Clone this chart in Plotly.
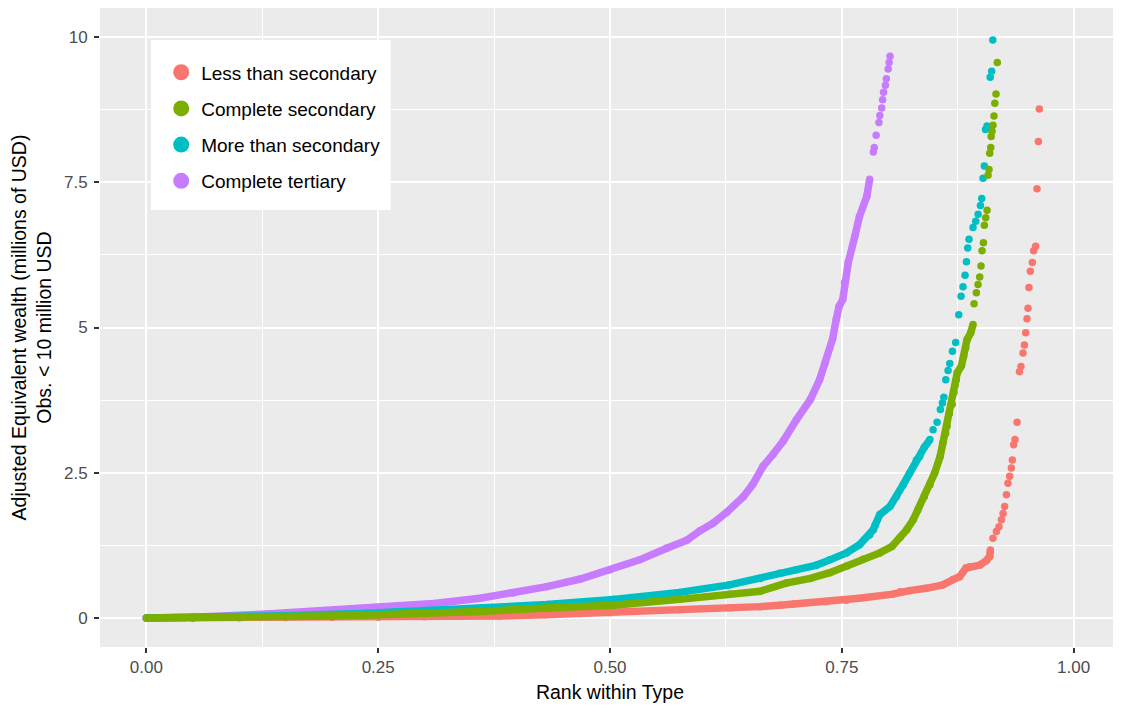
import plotly.graph_objects as go

# ---------------- data ----------------
less_x = [0.000, 0.050, 0.100, 0.150, 0.200, 0.250, 0.300, 0.381, 0.430, 0.468, 0.500, 0.575,
          0.630, 0.662, 0.683, 0.698, 0.733, 0.755, 0.769, 0.805, 0.813, 0.823, 0.841, 0.859,
          0.870, 0.877, 0.884, 0.888, 0.899, 0.906, 0.9095, 0.9102,
          0.9130, 0.9167, 0.9195, 0.9221, 0.9239, 0.9256, 0.9275, 0.9292, 0.9310, 0.9328,
          0.9339, 0.9353, 0.9368, 0.9390, 0.9415, 0.9432, 0.9454, 0.9469, 0.9483, 0.9497,
          0.9508, 0.9518, 0.9533, 0.9555, 0.9569, 0.9590, 0.9605, 0.9620, 0.9630]
less_y = [0.000, 0.001, 0.003, 0.006, 0.010, 0.014, 0.020, 0.035, 0.055, 0.075, 0.090, 0.140,
          0.175, 0.195, 0.220, 0.240, 0.280, 0.305, 0.340, 0.410, 0.450, 0.470, 0.510, 0.570,
          0.660, 0.710, 0.860, 0.880, 0.910, 0.990, 1.060, 1.170,
          1.37, 1.49, 1.57, 1.69, 1.80, 1.92, 2.12, 2.32, 2.44, 2.58,
          2.72, 2.98, 3.07, 3.37, 4.24, 4.33, 4.56, 4.70, 4.91, 5.15,
          5.33, 5.69, 5.97, 6.12, 6.32, 6.40, 7.39, 8.20, 8.76]

compsec_x = [0.000, 0.050, 0.100, 0.150, 0.200, 0.250, 0.300, 0.360, 0.432, 0.504, 0.575, 0.629,
             0.662, 0.690, 0.716, 0.737, 0.755, 0.773, 0.791, 0.804, 0.813, 0.820, 0.827, 0.832,
             0.839, 0.845, 0.850, 0.856, 0.859, 0.862, 0.8635, 0.866, 0.869, 0.871, 0.872,
             0.8735, 0.8745, 0.879, 0.8815, 0.8836, 0.885, 0.889, 0.8915,
             0.8926, 0.8951, 0.8969, 0.8987, 0.9001, 0.9012, 0.9027, 0.9037, 0.9052, 0.9066,
             0.9077, 0.9087, 0.9095, 0.9106, 0.9110, 0.9120, 0.9130, 0.9141, 0.9150, 0.9163, 0.9177]
compsec_y = [0.000, 0.004, 0.010, 0.020, 0.035, 0.055, 0.075, 0.110, 0.170, 0.220, 0.320, 0.410,
             0.460, 0.600, 0.680, 0.780, 0.890, 1.010, 1.120, 1.230, 1.390, 1.520, 1.690, 1.860,
             2.090, 2.290, 2.490, 2.780, 3.010, 3.180, 3.300, 3.520, 3.680, 3.880, 4.000,
             4.100, 4.220, 4.340, 4.510, 4.650, 4.790, 4.910, 5.050,
             5.41, 5.60, 5.74, 5.87, 6.06, 6.32, 6.46, 6.76, 6.89, 7.02,
             7.62, 7.72, 8.00, 8.10, 8.29, 8.38, 8.48, 8.64, 8.86, 9.02, 9.56]

moresec_x = [0.000, 0.050, 0.100, 0.150, 0.238, 0.300, 0.360, 0.432, 0.504, 0.575, 0.629, 0.662,
             0.683, 0.701, 0.723, 0.737, 0.755, 0.769, 0.780, 0.784, 0.786, 0.791, 0.802, 0.809,
             0.816, 0.823, 0.8305, 0.834, 0.839, 0.845,
             0.8484, 0.8527, 0.8563, 0.8585, 0.8600, 0.8621, 0.8646, 0.8664, 0.8693, 0.8728,
             0.8761, 0.8786, 0.8807, 0.8829, 0.8844, 0.8858, 0.8872, 0.8915, 0.8944, 0.8970,
             0.8995, 0.9009, 0.9023, 0.9037, 0.9050, 0.9066, 0.9100, 0.9116, 0.9128]
moresec_y = [0.000, 0.005, 0.020, 0.040, 0.080, 0.120, 0.170, 0.230, 0.320, 0.440, 0.570, 0.680,
             0.770, 0.830, 0.910, 1.000, 1.120, 1.260, 1.430, 1.520, 1.600, 1.780, 1.920, 2.090,
             2.290, 2.490, 2.720, 2.780, 2.940, 3.070,
             3.24, 3.37, 3.59, 3.70, 3.80, 4.10, 4.26, 4.38, 4.59, 4.74,
             5.22, 5.54, 5.70, 5.90, 6.13, 6.37, 6.52, 6.72, 6.83, 6.95,
             7.10, 7.22, 7.57, 7.78, 8.41, 8.47, 9.31, 9.41, 9.95]

tert_x = [0.000, 0.050, 0.130, 0.238, 0.310, 0.360, 0.396, 0.432, 0.468, 0.500, 0.532, 0.561,
          0.583, 0.597, 0.611, 0.626, 0.644, 0.654, 0.665, 0.676, 0.687, 0.701, 0.716,
          0.726, 0.732, 0.740, 0.744, 0.747, 0.751, 0.753, 0.757, 0.764, 0.769, 0.777, 0.780,
          0.784, 0.785, 0.787, 0.790, 0.791, 0.793, 0.794, 0.795, 0.797, 0.798, 0.800, 0.801, 0.802]
tert_y = [0.000, 0.010, 0.070, 0.170, 0.250, 0.340, 0.430, 0.540, 0.670, 0.830, 1.000, 1.200,
          1.340, 1.500, 1.630, 1.820, 2.090, 2.300, 2.610, 2.820, 3.050, 3.410, 3.760,
          4.100, 4.390, 4.800, 5.140, 5.360, 5.480, 5.780, 6.120, 6.570, 6.910, 7.260, 7.550,
          8.02, 8.10, 8.31, 8.53, 8.65, 8.78, 8.92, 9.05, 9.17, 9.28, 9.45, 9.56, 9.67]

series_names = ["Less than secondary", "Complete secondary", "More than secondary", "Complete tertiary"]
x_ticks = [0.0, 0.25, 0.5, 0.75, 1.0]
x_tick_labels = ["0.00", "0.25", "0.50", "0.75", "1.00"]
y_ticks = [0, 2.5, 5, 7.5, 10]
y_tick_labels = ["0", "2.5", "5", "7.5", "10"]

# ---------------- styling ----------------
colors = {"Less than secondary": "#F8766D", "Complete secondary": "#7CAE00",
          "More than secondary": "#00BFC4", "Complete tertiary": "#C77CFF"}
data = {"Less than secondary": (less_x, less_y),
        "Complete secondary": (compsec_x, compsec_y),
        "More than secondary": (moresec_x, moresec_y),
        "Complete tertiary": (tert_x, tert_y)}
# number of leading points that form a dense continuous band
dense_count = {"Less than secondary": 32, "Complete secondary": 43,
               "More than secondary": 30, "Complete tertiary": 35}
draw_order = ["Less than secondary", "Complete tertiary", "More than secondary", "Complete secondary"]
DOT = 7.5
FONT = "Liberation Sans, Arial, Helvetica, sans-serif"

fig = go.Figure()
for name in draw_order:
    xs, ys = data[name]
    n = dense_count[name]
    fig.add_trace(go.Scatter(x=xs[:n], y=ys[:n], mode="lines",
                             line=dict(color=colors[name], width=DOT),
                             showlegend=False, hoverinfo="skip"))
    fig.add_trace(go.Scatter(x=xs, y=ys, mode="markers",
                             marker=dict(color=colors[name], size=DOT, line=dict(width=0)),
                             showlegend=False, name=name))

for i, name in enumerate(series_names):
    fig.add_trace(go.Scatter(x=[None], y=[None], mode="markers", name=name,
                             legendgroup=f"g{i}",
                             marker=dict(color=colors[name], size=18)))

fig.add_shape(type="rect", xref="paper", yref="paper",
              x0=0.05, x1=0.285, y0=0.684, y1=0.950,
              fillcolor="white", line=dict(width=0), layer="above")

fig.update_layout(
    width=1113, height=701,
    margin=dict(l=92, r=1, t=0, b=62, autoexpand=False),
    paper_bgcolor="white", plot_bgcolor="#EBEBEB",
    font=dict(family=FONT, color="black"),
    showlegend=True,
    legend=dict(x=0.060, y=0.929, xanchor="left", yanchor="top",
                bgcolor="rgba(0,0,0,0)", borderwidth=0,
                font=dict(size=19, color="black"),
                tracegroupgap=8.5, traceorder="grouped"),
    xaxis=dict(range=[-0.05, 1.05], tickvals=x_ticks, ticktext=x_tick_labels,
               showgrid=True, gridcolor="white", gridwidth=2,
               minor=dict(showgrid=True, gridcolor="white", gridwidth=1, dtick=0.125, tick0=0.125,
                          ticks=""),
               zeroline=False, showline=False, automargin=False,
               ticks="outside", ticklen=5, tickwidth=1.5, tickcolor="#333333",
               tickfont=dict(size=17, color="#4D4D4D"),
               title=dict(text="Rank within Type", font=dict(size=19.5, color="black"), standoff=8)),
    yaxis=dict(range=[-0.5, 10.5], tickvals=y_ticks, ticktext=y_tick_labels,
               showgrid=True, gridcolor="white", gridwidth=2,
               minor=dict(showgrid=True, gridcolor="white", gridwidth=1, dtick=2.5, tick0=1.25,
                          ticks=""),
               zeroline=False, showline=False, automargin=False,
               ticks="outside", ticklen=5, tickwidth=1.5, tickcolor="#333333",
               tickfont=dict(size=17, color="#4D4D4D"), ticklabelstandoff=3,
               title=dict(text="Adjusted Equivalent wealth (millions of USD)<br>Obs. &lt; 10 million USD",
                          font=dict(size=19.5, color="black"), standoff=8)),
)

fig.write_html("out.html")
